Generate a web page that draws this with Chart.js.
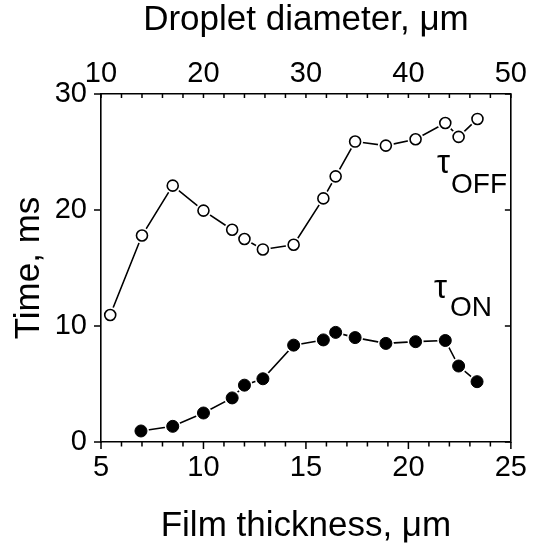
<!DOCTYPE html>
<html>
<head>
<meta charset="utf-8">
<script src="https://cdn.jsdelivr.net/npm/chart.js@4/dist/chart.umd.min.js"></script>
<style>
html,body{margin:0;padding:0;background:#fff;}
#wrap{width:536px;height:543px;}
</style>
</head>
<body>
<div id="wrap"><canvas id="c" width="536" height="543"></canvas></div>
<script>
// Film thickness (µm) and time constants (ms)
const thickOff = [5.45, 7.0, 8.5, 10.0, 11.4, 12.0, 12.9, 14.4, 15.85, 16.45, 17.4, 18.9, 20.35, 21.8, 22.45, 23.37];
const tauOff   = [10.95, 17.8, 22.1, 19.95, 18.3, 17.5, 16.6, 17.0, 21.0, 22.9, 25.9, 25.55, 26.1, 27.5, 26.3, 27.85];
const thickOn  = [6.95, 8.5, 10.0, 11.4, 12.0, 12.9, 14.4, 15.85, 16.45, 17.4, 18.9, 20.35, 21.8, 22.45, 23.35];
const tauOn    = [0.95, 1.35, 2.5, 3.8, 4.9, 5.45, 8.35, 8.8, 9.45, 9.0, 8.5, 8.65, 8.75, 6.55, 5.2];

const xTicksMajor = [5, 10, 15, 20, 25];
const topTicksMajor = [10, 20, 30, 40, 50];
const yTicksMajor = [0, 10, 20, 30];

const FONT = '"Liberation Sans", Arial, Helvetica, sans-serif';

const offPoints = thickOff.map((x, i) => ({x: x, y: tauOff[i]}));
const onPoints  = thickOn.map((x, i) => ({x: x, y: tauOn[i]}));

const tickPlugin = {
  id: 'ticks',
  beforeDatasetsDraw(chart) {
    const ctx = chart.ctx;
    const {x, x2, y, y2} = chart.scales;
    const ca = chart.chartArea;
    ctx.save();
    ctx.strokeStyle = '#000';
    ctx.lineWidth = 1.5;
    ctx.beginPath();
    for (let v = 5; v <= 25; v += 1) {
      const px = x.getPixelForValue(v);
      const len = xTicksMajor.includes(v) ? 7 : 4.5;
      ctx.moveTo(px, ca.bottom); ctx.lineTo(px, ca.bottom + len);
    }
    for (let v = 10; v <= 50; v += 2) {
      const px = x2.getPixelForValue(v);
      ctx.moveTo(px, ca.top); ctx.lineTo(px, ca.top + 4);
    }
    yTicksMajor.forEach(v => {
      const py = y.getPixelForValue(v);
      ctx.moveTo(ca.left, py); ctx.lineTo(ca.left - 7, py);
    });
    yTicksMajor.forEach(v => {
      const py = y2.getPixelForValue(v);
      ctx.moveTo(ca.right, py); ctx.lineTo(ca.right - 6, py);
    });
    ctx.stroke();
    ctx.restore();
  },
  afterDraw(chart) {
    const ctx = chart.ctx;
    const {x, y} = chart.scales;
    ctx.save();
    ctx.fillStyle = '#000';
    ctx.textBaseline = 'alphabetic';
    ctx.textAlign = 'left';
    const lab = (xv, yv, sub, subDx, subDy) => {
      const px = x.getPixelForValue(xv), py = y.getPixelForValue(yv);
      ctx.font = '33px ' + FONT;
      ctx.fillText('τ', px, py);
      ctx.font = '28px ' + FONT;
      ctx.fillText(sub, px + subDx, py + subDy);
    };
    lab(21.4, 23.2, 'OFF', 14, 20);
    lab(21.25, 12.45, 'ON', 16, 18);
    ctx.restore();
  }
};

const axisBorder = {display: true, color: '#000', width: 1.6};
const TICK_SIZE = 29;
const TITLE_SIZE = 35;

// connecting lines (bottom), white halos (middle), markers (top)
function lineDs(pts) {
  return {data: pts, showLine: true, borderColor: '#000', borderWidth: 1.6,
          pointRadius: 0, order: 3, xAxisID: 'x', yAxisID: 'y'};
}
function haloDs(pts, r) {
  return {data: pts, showLine: false, pointRadius: r, pointBorderWidth: 0,
          pointBackgroundColor: '#fff', pointBorderColor: '#fff', order: 2, xAxisID: 'x', yAxisID: 'y'};
}

new Chart(document.getElementById('c'), {
  type: 'scatter',
  data: {
    datasets: [
      lineDs(offPoints),
      lineDs(onPoints),
      haloDs(offPoints, 8),
      haloDs(onPoints, 8),
      {
        label: 'tau_off',
        data: offPoints,
        showLine: false,
        pointRadius: 5.5,
        pointBorderWidth: 1.6,
        pointBackgroundColor: '#fff',
        pointBorderColor: '#000',
        order: 1,
        xAxisID: 'x', yAxisID: 'y'
      },
      {
        label: 'tau_on',
        data: onPoints,
        showLine: false,
        pointRadius: 6,
        pointBorderWidth: 1,
        pointBackgroundColor: '#000',
        pointBorderColor: '#000',
        order: 1,
        xAxisID: 'x', yAxisID: 'y'
      }
    ]
  },
  options: {
    responsive: false,
    animation: false,
    devicePixelRatio: 1,
    layout: {padding: 0},
    plugins: {legend: {display: false}, tooltip: {enabled: false}},
    scales: {
      x: {
        type: 'linear', position: 'bottom', min: 5, max: 25,
        afterFit: s => { s.height = 101; },
        afterBuildTicks: s => { s.ticks = xTicksMajor.map(v => ({value: v})); },
        ticks: {color: '#000', font: {family: FONT, size: TICK_SIZE}, padding: 9, maxRotation: 0},
        grid: {display: false, drawTicks: false},
        border: axisBorder,
        title: {display: true, text: 'Film thickness, μm', color: '#000',
                font: {family: FONT, size: TITLE_SIZE, lineHeight: 1}, padding: {top: 0, bottom: -1}}
      },
      x2: {
        type: 'linear', position: 'top', min: 10, max: 50,
        afterFit: s => { s.height = 94; },
        afterBuildTicks: s => { s.ticks = topTicksMajor.map(v => ({value: v})); },
        ticks: {color: '#000', font: {family: FONT, size: TICK_SIZE}, padding: 3, maxRotation: 0},
        grid: {display: false, drawTicks: false},
        border: axisBorder,
        title: {display: true, text: 'Droplet diameter, μm', color: '#000',
                font: {family: FONT, size: TITLE_SIZE, lineHeight: 1}, padding: {top: 3, bottom: 0}}
      },
      y: {
        type: 'linear', position: 'left', min: 0, max: 30,
        afterFit: s => { s.width = 101; },
        afterBuildTicks: s => { s.ticks = yTicksMajor.map(v => ({value: v})); },
        ticks: {color: '#000', font: {family: FONT, size: TICK_SIZE}, padding: 14},
        grid: {display: false, drawTicks: false},
        border: axisBorder,
        title: {display: true, text: 'Time, ms', color: '#000',
                font: {family: FONT, size: TITLE_SIZE, lineHeight: 1}, padding: {top: 12, bottom: 0}}
      },
      y2: {
        type: 'linear', position: 'right', min: 0, max: 30,
        afterFit: s => { s.width = 23; },
        ticks: {display: false},
        grid: {display: false, drawTicks: false},
        border: axisBorder
      }
    }
  },
  plugins: [tickPlugin]
});
</script>
</body>
</html>
